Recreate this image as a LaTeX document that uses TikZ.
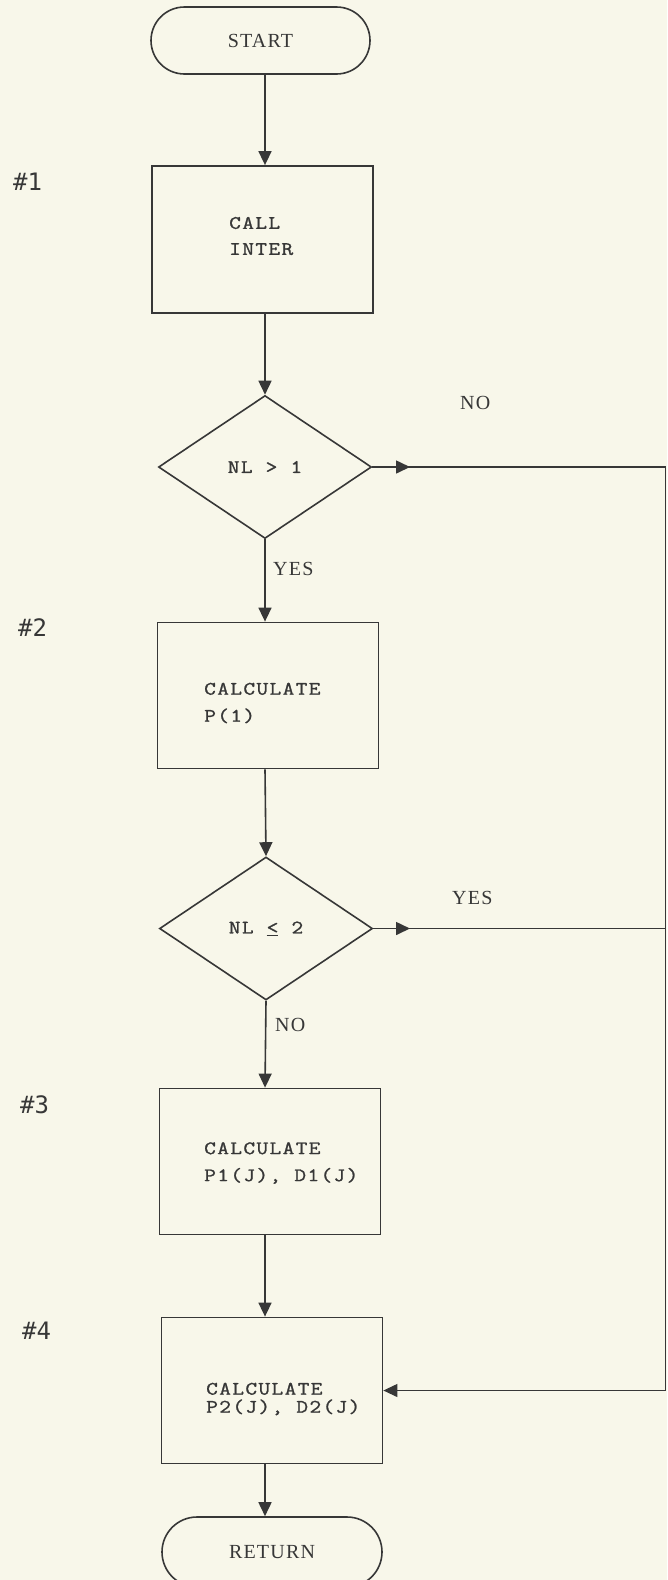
\documentclass[tikz,border=0pt]{standalone}
\usepackage{fontspec}
\usetikzlibrary{shapes.geometric,shapes.misc,arrows.meta}
\newfontfamily\typew[FakeStretch=1.2,LetterSpace=7,FakeBold=1.2]{Latin Modern Mono}
\newfontfamily\serifl[LetterSpace=6]{Liberation Serif}
\newfontfamily\numf{DejaVu Sans Mono}
\definecolor{paper}{RGB}{248,247,234}
\definecolor{ink}{RGB}{55,55,55}
\begin{document}
\begin{tikzpicture}[x=1pt,y=-1pt,
  every node/.style={text=ink},
  thinline/.style={draw=ink, line width=1.2pt},
  flow/.style={draw=ink, line width=1.6pt, -{Triangle[length=14pt,width=13pt]}},
  term/.style={rounded rectangle, draw=ink, line width=1.6pt, minimum width=219pt, minimum height=67pt, inner sep=0pt, font=\serifl\fontsize{20}{24}\selectfont},
  proc/.style={rectangle, draw=ink, line width=1.8pt, minimum width=221pt, minimum height=146pt, inner sep=0pt},
  dec/.style={diamond, draw=ink, line width=1.6pt, minimum width=213pt, minimum height=143pt, inner sep=0pt, aspect=1.49, font=\typew\fontsize{19}{22.8}\selectfont},
  btext/.style={anchor=west, align=left, inner sep=0pt, font=\typew\fontsize{19}{22.8}\selectfont},
  lab/.style={anchor=west, inner sep=0pt, font=\serifl\fontsize{20}{24}\selectfont},
  num/.style={anchor=west, inner sep=0pt, font=\numf\fontsize{24}{28}\selectfont}]
\fill[paper] (0,0) rectangle (667,1580);
\useasboundingbox (0,0) rectangle (667,1580);
\coordinate (axis) at (265,0);
% nodes
\node[term] (start) at (260.5,40.5) {START};
\node[proc, minimum height=147pt] (b1) at (262.5,239.5) {};
\node[dec] (d1) at (265,467) {NL > 1};
\node[proc] (b2) at (268,695.5) {};
\node[dec] (d2) at (266,928.5) {NL \underline{<} 2};
\node[proc] (b3) at (270,1161.5) {};
\node[proc] (b4) at (272,1390.5) {};
\node[term, minimum width=220pt, minimum height=70pt] (ret) at (272,1552) {RETURN};
% box texts
\node[btext] (t1) at (229,236) {CALL\\[3.2pt]INTER};
\node[btext] (t2) at (204,703) {CALCULATE\\[4.2pt]P(1)};
\node[btext] (t3) at (204,1163) {CALCULATE\\[4.2pt]P1(J), D1(J)};
\node[btext] (t4) at (206,1399) {CALCULATE\\[-4.8pt]P2(J), D2(J)};
% labels
\node[lab] (yes1) at (273,569) {YES};
\node[lab] (no1) at (460,403) {NO};
\node[lab] (yes2) at (452,898) {YES};
\node[lab] (no2) at (275,1025) {NO};
\node[num] (n1) at (13,182) {\#1};
\node[num] (n2) at (18,628) {\#2};
\node[num] (n3) at (20,1105) {\#3};
\node[num] (n4) at (22,1331) {\#4};
% main flow
\draw[flow] (start.south -| axis) -- (b1.north -| axis);
\draw[flow] (b1.south -| axis) -- (d1.north);
\draw[flow] (d1.south) -- (b2.north -| axis);
\draw[flow] (b2.south -| axis) -- (d2.north);
\draw[flow] (d2.south) -- (b3.north -| axis);
\draw[flow] (b3.south -| axis) -- (b4.north -| axis);
\draw[flow] (b4.south -| axis) -- (ret.north -| axis);
% right loop
\coordinate (r1) at (665.5,467);
\coordinate (a1) at (410,467);
\coordinate (a2) at (410,928.5);
\draw[thinline, -{Triangle[length=14pt,width=13pt]}] (d1.east) -- (r1) |- (b4.east);
\draw[flow] (d1.east) -- (a1);
\draw[thinline] (d2.east) -- (d2.east -| r1);
\draw[flow] (d2.east) -- (a2);
\end{tikzpicture}
\end{document}
